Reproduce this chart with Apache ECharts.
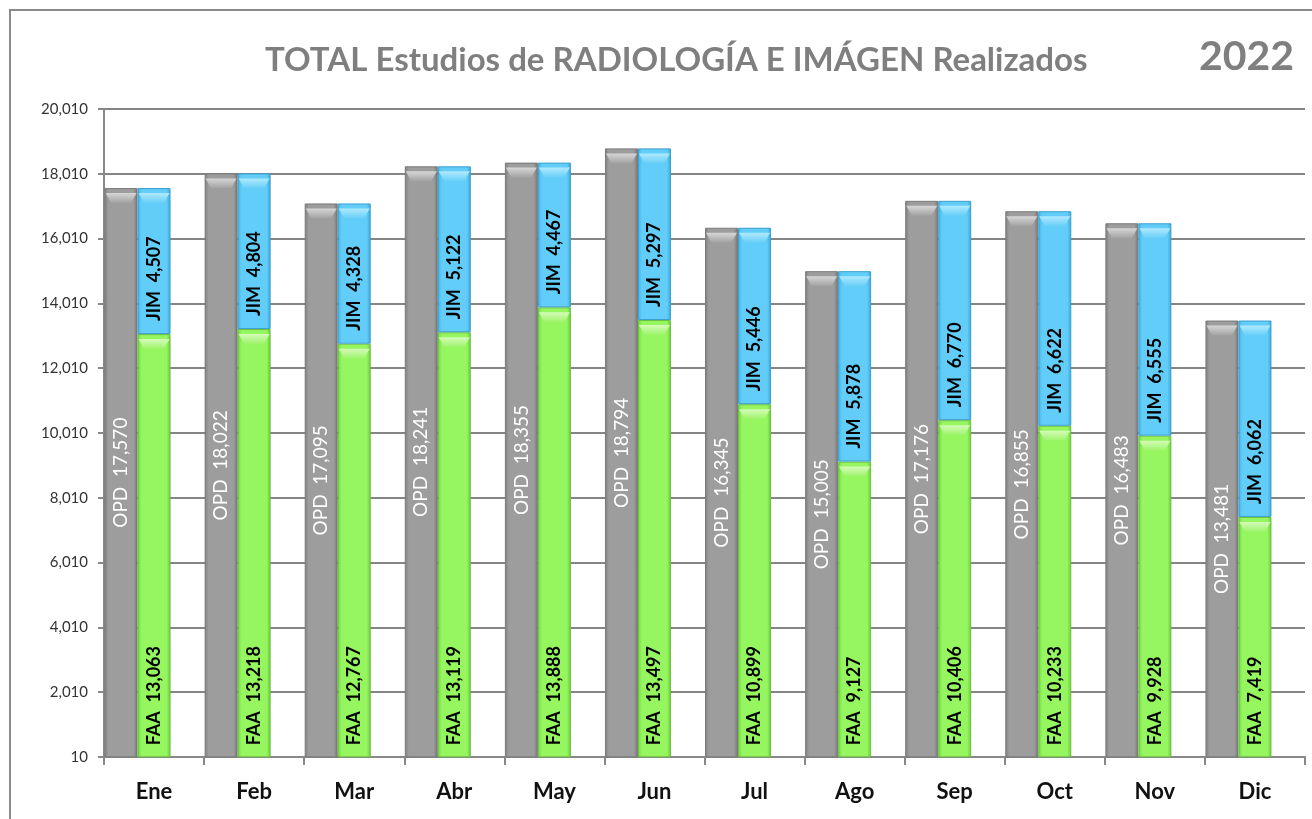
<!DOCTYPE html>
<html>
<head>
<meta charset="utf-8">
<script src="https://cdn.jsdelivr.net/npm/echarts@6/dist/echarts.min.js"></script>
<style>
html,body{margin:0;padding:0;background:#fff;}
#c{width:1312px;height:819px;}
</style>
</head>
<body>
<div id="c"></div>
<script>
const categories = ['Ene','Feb','Mar','Abr','May','Jun','Jul','Ago','Sep','Oct','Nov','Dic'];
const opd = [17570,18022,17095,18241,18355,18794,16345,15005,17176,16855,16483,13481];
const faa = [13063,13218,12767,13119,13888,13497,10899,9127,10406,10233,9928,7419];
const jim = [4507,4804,4328,5122,4467,5297,5446,5878,6770,6622,6555,6062];
const emptySlot = [null,null,null,null,null,null,null,null,null,null,null,null];
const titleText = 'TOTAL Estudios de RADIOLOGÍA E IMÁGEN Realizados';
const yearText = '2022';

const FONT = 'Lato, "Open Sans", sans-serif';
const fmt = v => Number(v).toLocaleString('en-US');
// stacked top of the FAA+JIM column
const stackTop = faa.map((v,i)=>v+jim[i]);

function grad(edge, mid, edge2){
  return new echarts.graphic.LinearGradient(0,0,1,0,[
    {offset:0,color:edge},{offset:0.12,color:mid},{offset:0.88,color:mid},{offset:1,color:edge2}
  ]);
}
function capGrad(top, bottom){
  return new echarts.graphic.LinearGradient(0,0,0,1,[
    {offset:0,color:top},{offset:1,color:bottom}
  ]);
}
const CAP = 'path://M0,0 L33,0 L27,10 L6,10 Z';
function cap(name, data, top, bottom, dx){
  return {name:name,type:'pictorialBar',data:data,symbol:CAP,symbolSize:[31,10],
    symbolPosition:'end',symbolOffset:[dx,'50%'],barWidth:33,barGap:'0%',z:3,silent:true,
    itemStyle:{color:capGrad(top,bottom)}};
}

const chart = echarts.init(document.getElementById('c'));
chart.setOption({
  animation:false,
  backgroundColor:'#fff',
  grid:{left:104,right:7,top:109,bottom:62,containLabel:false},
  graphic:[
    {type:'rect',shape:{x:10,y:10,width:1320,height:830},style:{fill:null,stroke:'#8a8a8a',lineWidth:2},silent:true},
    {type:'text',left:265,top:44,style:{text:titleText,font:'bold 33px '+FONT,fill:'#7f7f7f'}},
    {type:'text',left:1199,top:36,style:{text:yearText,font:'bold 41px '+FONT,fill:'#7f7f7f'}}
  ],
  xAxis:{
    type:'category',data:categories,
    axisLine:{lineStyle:{color:'#888',width:2}},
    axisTick:{show:true,alignWithLabel:false,length:8,lineStyle:{color:'#888',width:2}},
    axisLabel:{color:'#111',fontFamily:FONT,fontWeight:'bold',fontSize:22,margin:24}
  },
  yAxis:{
    type:'value',min:10,max:20010,interval:2000,
    axisLine:{show:true,lineStyle:{color:'#888',width:2}},
    axisTick:{show:true,length:6,lineStyle:{color:'#888',width:2}},
    splitLine:{lineStyle:{color:'#858585',width:2}},
    axisLabel:{color:'#333',fontFamily:FONT,fontSize:15,margin:16,formatter:v=>fmt(v)}
  },
  series:[
    {name:'OPD',type:'bar',data:opd,barWidth:33,barGap:'0%',
     itemStyle:{color:grad('#7e7e7e','#9d9d9d','#727272'),borderColor:'#7a7a7a',borderWidth:1},
     label:{show:true,position:'inside',rotate:90,align:'center',verticalAlign:'middle',
       color:'#fff',fontFamily:FONT,fontSize:19,formatter:p=>'OPD  '+fmt(p.value)}},
    {name:'FAA',type:'bar',stack:'s',data:faa,barWidth:33,barGap:'0%',
     itemStyle:{color:grad('#6fd63c','#95f660','#66c934'),borderColor:'#6cc040',borderWidth:1},
     label:{show:true,position:'insideBottom',distance:12,rotate:90,align:'left',verticalAlign:'middle',
       color:'#000',fontFamily:FONT,fontWeight:'bold',fontSize:18,formatter:p=>'FAA  '+fmt(p.value)}},
    {name:'JIM',type:'bar',stack:'s',data:jim,barWidth:33,barGap:'0%',
     itemStyle:{color:grad('#3fb3e6','#62cdf8','#38a6d8'),borderColor:'#3a9fcf',borderWidth:1},
     label:{show:true,position:'insideBottom',distance:13,rotate:90,align:'left',verticalAlign:'middle',
       color:'#000',fontFamily:FONT,fontWeight:'bold',fontSize:18,formatter:p=>'JIM  '+fmt(p.value)}},
    {name:'slot',type:'bar',data:emptySlot,barWidth:33,barGap:'0%',silent:true,
     itemStyle:{color:'transparent'}},
    cap('capOPD', opd, '#d6d6d6', '#a2a2a2', 0),
    cap('capFAA', faa, '#d6fbba', '#9cf468', 0),
    cap('capJIM', stackTop, '#b0e9fd', '#66cff9', -33)
  ]
});
</script>
</body>
</html>
